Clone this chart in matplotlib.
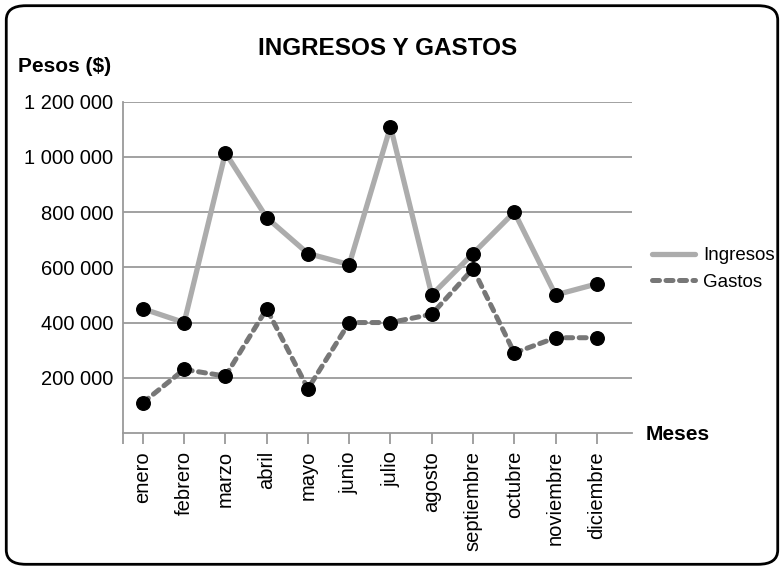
import numpy as np
import matplotlib
matplotlib.use('Agg')
import matplotlib.pyplot as plt
from matplotlib.patches import FancyBboxPatch

plt.rcParams['font.family'] = ['Liberation Sans', 'DejaVu Sans']

# data
meses = ['enero', 'febrero', 'marzo', 'abril', 'mayo', 'junio', 'julio',
         'agosto', 'septiembre', 'octubre', 'noviembre', 'diciembre']
ingresos = [450000, 400000, 1015000, 780000, 650000, 610000, 1110000,
            500000, 650000, 800000, 500000, 540000]
gastos = [110000, 230000, 206000, 450000, 160000, 400000, 400000,
          430000, 595000, 290000, 345000, 345000]
yticks = [200000, 400000, 600000, 800000, 1000000, 1200000]
ylabels = ['200 000', '400 000', '600 000', '800 000', '1 000 000', '1 200 000']

fig = plt.figure(figsize=(7.84, 5.70), dpi=100)
ax = fig.add_axes([0.157, 0.2404, 0.649, 0.5812])

x = np.arange(len(meses))
gris_grid = '#9a9a9a'

ax.plot(x, ingresos, color='#acacac', lw=3.8, solid_capstyle='round',
        label='Ingresos', zorder=3)
ax.plot(x, gastos, color='#777777', lw=3.6, linestyle=(0, (1.4, 1.3)),
        dash_capstyle='round', label='Gastos', zorder=3)
ax.scatter(x, ingresos, s=95, color='black', zorder=4)
ax.scatter(x, gastos, s=95, color='black', zorder=4)

ax.set_xlim(-0.48, 11.85)
ax.set_ylim(0, 1200000)
ax.set_yticks(yticks)
ax.set_yticklabels(ylabels, fontsize=14.5)
ax.set_xticks(x)
ax.set_xticklabels(meses, rotation=90, fontsize=14.5)
ax.set_xticks([-0.48], minor=True)
ax.tick_params(axis='x', which='both', length=8, width=1.3, color=gris_grid, pad=5)
ax.tick_params(axis='y', length=0, pad=7)

ax.grid(axis='y', color=gris_grid, lw=1.3)
ax.set_axisbelow(True)
for s in ['top', 'right']:
    ax.spines[s].set_visible(False)
for s in ['left', 'bottom']:
    ax.spines[s].set_color(gris_grid)
    ax.spines[s].set_linewidth(1.3)

fig.text(0.494, 0.915, 'INGRESOS Y GASTOS', ha='center', va='center',
         fontsize=17.5, fontweight='bold')
fig.text(0.023, 0.884, 'Pesos ($)', ha='left', va='center',
         fontsize=15, fontweight='bold')
fig.text(0.824, 0.237, 'Meses', ha='left', va='center',
         fontsize=15, fontweight='bold')

fig.legend(loc='center left', bbox_to_anchor=(0.832, 0.528), frameon=False,
           fontsize=13.5, handlelength=2.3, handletextpad=0.4, labelspacing=0.5,
           borderaxespad=0, borderpad=0)

borde = FancyBboxPatch((0.008, 0.01), 0.984, 0.98,
                       boxstyle='round,pad=0,rounding_size=0.025',
                       transform=fig.transFigure, fill=False,
                       edgecolor='black', lw=2)
fig.patches.append(borde)

fig.savefig('out.png', dpi=100)
